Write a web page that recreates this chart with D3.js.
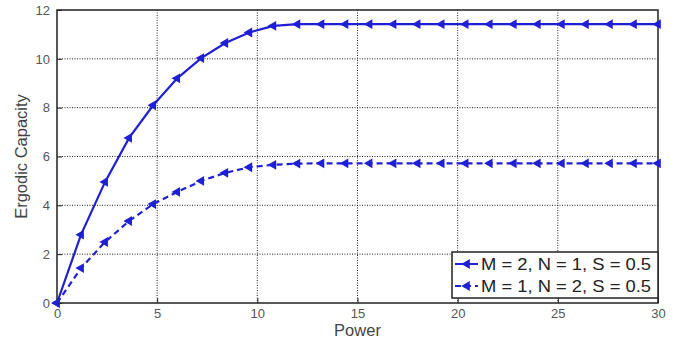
<!DOCTYPE html>
<html>
<head>
<meta charset="utf-8">
<script src="https://cdn.jsdelivr.net/npm/d3@7"></script>
<style>
  body { margin: 0; background: #fff; }
  text { font-family: Arial, "Liberation Sans", sans-serif; }
</style>
</head>
<body>
<svg id="chart" width="681" height="342"></svg>
<script>
// data
const power = [0, 1.2, 2.4, 3.6, 4.8, 6, 7.2, 8.4, 9.6, 10.8, 12, 13.2, 14.4, 15.6, 16.8, 18, 19.2, 20.4, 21.6, 22.8, 24, 25.2, 26.4, 27.6, 28.8, 30];
const capA = [0, 2.8, 4.96, 6.76, 8.1, 9.2, 10.03, 10.65, 11.08, 11.35, 11.42, 11.42, 11.42, 11.42, 11.42, 11.42, 11.42, 11.42, 11.42, 11.42, 11.42, 11.42, 11.42, 11.42, 11.42, 11.42];
const capB = [0, 1.43, 2.5, 3.36, 4.05, 4.55, 5.0, 5.33, 5.56, 5.66, 5.71, 5.72, 5.72, 5.72, 5.72, 5.72, 5.72, 5.72, 5.72, 5.72, 5.72, 5.72, 5.72, 5.72, 5.72, 5.72];
const seriesNames = ['M = 2, N = 1, S = 0.5', 'M = 1, N = 2, S = 0.5'];
const xTicks = [0, 5, 10, 15, 20, 25, 30];
const yTicks = [0, 2, 4, 6, 8, 10, 12];

const svg = d3.select('#chart');
const margin = { left: 57, top: 10, right: 23, bottom: 39 };
const width = 681 - margin.left - margin.right;
const height = 342 - margin.top - margin.bottom;
const blue = '#1f1fd6';

const g = svg.append('g').attr('transform', `translate(${margin.left},${margin.top})`);

const x = d3.scaleLinear().domain([0, 30]).range([0, width]);
const y = d3.scaleLinear().domain([0, 12]).range([height, 0]);

// grid
g.append('g').selectAll('line').data(xTicks.slice(1, -1)).enter().append('line')
  .attr('x1', d => x(d)).attr('x2', d => x(d)).attr('y1', 0).attr('y2', height)
  .attr('stroke', '#222').attr('stroke-width', 1).attr('stroke-dasharray', '1,1.5');
g.append('g').selectAll('line').data(yTicks.slice(1, -1)).enter().append('line')
  .attr('y1', d => y(d)).attr('y2', d => y(d)).attr('x1', 0).attr('x2', width)
  .attr('stroke', '#222').attr('stroke-width', 1).attr('stroke-dasharray', '1,1.5');

// axes
const xAxis = g.append('g').attr('transform', `translate(0,${height})`)
  .call(d3.axisBottom(x).tickValues(xTicks).tickSizeInner(-5).tickSizeOuter(0).tickPadding(6));
const yAxis = g.append('g')
  .call(d3.axisLeft(y).tickValues(yTicks).tickSizeInner(-5).tickSizeOuter(0).tickPadding(7));
[xAxis, yAxis].forEach(a => {
  a.selectAll('text').attr('font-size', 13).attr('fill', '#555');
  a.selectAll('line').attr('stroke', '#222');
  a.select('.domain').remove();
});
g.append('rect').attr('width', width).attr('height', height)
  .attr('fill', 'none').attr('stroke', '#222').attr('stroke-width', 1.5);

// lines
const line = d3.line().x(d => x(d[0])).y(d => y(d[1]));
const tri = d3.symbol().type(d3.symbolTriangle).size(42);
const series = [
  { vals: capA, dash: null },
  { vals: capB, dash: '6,4' }
];
series.forEach(s => {
  const pts = power.map((p, i) => [p, s.vals[i]]);
  g.append('path').datum(pts).attr('d', line)
    .attr('fill', 'none').attr('stroke', blue).attr('stroke-width', 2.2)
    .attr('stroke-dasharray', s.dash);
  g.append('g').selectAll('path').data(pts).enter().append('path')
    .attr('d', tri)
    .attr('transform', d => `translate(${x(d[0])},${y(d[1])}) rotate(-90)`)
    .attr('fill', blue);
});

// legend
const lg = svg.append('g').attr('transform', 'translate(452,252)');
lg.append('rect').attr('width', 206).attr('height', 46)
  .attr('fill', '#fff').attr('stroke', '#222').attr('stroke-width', 1.5);
seriesNames.forEach((name, i) => {
  const ly = 12 + i * 22;
  lg.append('line').attr('x1', 3).attr('x2', 26).attr('y1', ly).attr('y2', ly)
    .attr('stroke', blue).attr('stroke-width', 2)
    .attr('stroke-dasharray', series[i].dash);
  lg.append('path').attr('d', tri).attr('transform', `translate(15,${ly}) rotate(-90)`).attr('fill', blue);
  lg.append('text').attr('x', 29).attr('y', ly + 6).attr('font-size', 17)
    .attr('textLength', 170).attr('lengthAdjust', 'spacingAndGlyphs')
    .attr('fill', '#222').text(name);
});

// axis titles
svg.append('text').attr('x', margin.left + width / 2).attr('y', 336)
  .attr('text-anchor', 'middle').attr('font-size', 16.5).attr('fill', '#444').text('Power');
svg.append('text').attr('transform', `translate(27,${margin.top + height / 2}) rotate(-90)`)
  .attr('text-anchor', 'middle').attr('font-size', 16.5).attr('fill', '#444').text('Ergodic Capacity');
</script>
</body>
</html>
